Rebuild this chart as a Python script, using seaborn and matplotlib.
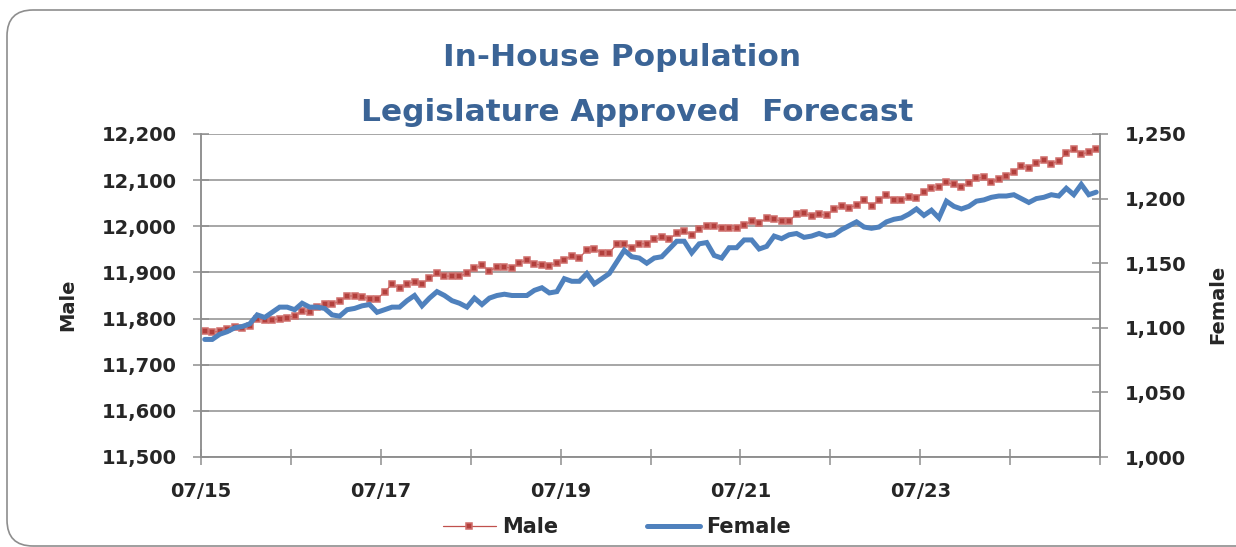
import numpy as np
import pandas as pd
import seaborn as sns
import matplotlib
matplotlib.use("Agg")
import matplotlib.pyplot as plt
from matplotlib.patches import FancyBboxPatch
from matplotlib.transforms import IdentityTransform
from matplotlib.ticker import FuncFormatter

# ---------------- data ----------------
male = [11772, 11771, 11772, 11778, 11782, 11780, 11784, 11800, 11797, 11796,
        11800, 11802, 11806, 11817, 11815, 11824, 11832, 11831, 11838, 11849,
        11849, 11847, 11843, 11842, 11858, 11874, 11867, 11875, 11880, 11875,
        11887, 11898, 11892, 11892, 11892, 11898, 11909, 11916, 11903, 11912,
        11912, 11909, 11920, 11928, 11918, 11916, 11915, 11920, 11928, 11936,
        11931, 11949, 11950, 11943, 11943, 11961, 11962, 11954, 11962, 11962,
        11972, 11976, 11972, 11985, 11990, 11981, 11994, 12001, 12001, 11996,
        11996, 11996, 12003, 12011, 12008, 12017, 12015, 12011, 12011, 12027,
        12029, 12022, 12026, 12024, 12037, 12044, 12040, 12046, 12058, 12044,
        12057, 12068, 12057, 12057, 12063, 12062, 12074, 12084, 12086, 12095,
        12091, 12086, 12093, 12104, 12106, 12095, 12102, 12108, 12118, 12131,
        12127, 12137, 12144, 12135, 12142, 12158, 12168, 12157, 12160, 12167]

female = [1091, 1091, 1095, 1097, 1100, 1101, 1103, 1110, 1108, 1112,
          1116, 1116, 1114, 1119, 1116, 1116, 1115, 1110, 1109, 1114,
          1115, 1117, 1118, 1112, 1114, 1116, 1116, 1121, 1125, 1117,
          1123, 1128, 1125, 1121, 1119, 1116, 1123, 1118, 1123, 1125,
          1126, 1125, 1125, 1125, 1129, 1131, 1127, 1128, 1138, 1136,
          1136, 1142, 1134, 1138, 1142, 1151, 1160, 1155, 1154, 1150,
          1154, 1155, 1161, 1167, 1167, 1158, 1165, 1166, 1156, 1154,
          1162, 1162, 1168, 1168, 1161, 1163, 1171, 1169, 1172, 1173,
          1170, 1171, 1173, 1171, 1172, 1176, 1179, 1182, 1178, 1177,
          1178, 1182, 1184, 1185, 1188, 1192, 1187, 1191, 1185, 1198,
          1194, 1192, 1194, 1198, 1199, 1201, 1202, 1202, 1203, 1200,
          1197, 1200, 1201, 1203, 1202, 1208, 1203, 1211, 1203, 1205]

x_labels = ["07/15", "07/17", "07/19", "07/21", "07/23"]
left_ticks = [11500, 11600, 11700, 11800, 11900, 12000, 12100, 12200]
right_ticks = [1000, 1050, 1100, 1150, 1200, 1250]
title_lines = ["In-House Population", "Legislature Approved  Forecast"]

n = len(male)
df = pd.DataFrame({"month": np.arange(n) + 0.5, "Male": male, "Female": female})

# ---------------- styling ----------------
sns.set_style("white")
plt.rcParams["font.family"] = ["DejaVu Sans"]

W, H = 1236, 547
fig = plt.figure(figsize=(W / 100, H / 100), dpi=100)
ax = fig.add_axes([201 / W, 1 - 457 / H, (1100 - 201) / W, (457 - 134) / H])
ax2 = ax.twinx()

GRAY = "#8E8E8E"
RED = "#C0504D"
BLUE = "#4F81BD"

sns.lineplot(data=df, x="month", y="Male", ax=ax, color=RED, lw=0.9,
             marker="s", markersize=5.0, markerfacecolor="#B2403D",
             markeredgecolor="#CF6E6B", markeredgewidth=1.1, label="Male",
             legend=False)
sns.lineplot(data=df, x="month", y="Female", ax=ax2, color=BLUE, lw=3.6,
             label="Female", legend=False, solid_joinstyle="miter")

ax.set_xlim(0, n)
ax.set_ylim(left_ticks[0], left_ticks[-1])
ax2.set_ylim(right_ticks[0], right_ticks[-1])

ax.set_yticks(left_ticks)
ax2.set_yticks(right_ticks)
fmt = FuncFormatter(lambda v, p: f"{int(v):,}")
ax.yaxis.set_major_formatter(fmt)
ax2.yaxis.set_major_formatter(fmt)

xt = np.arange(0, n + 1, 12)
ax.set_xticks(xt)
lab = []
for i, t in enumerate(xt):
    lab.append(x_labels[i // 2] if (i % 2 == 0 and i // 2 < len(x_labels)) else "")
ax.set_xticklabels(lab)

ax.grid(axis="y", color=GRAY, lw=1.1)
ax.grid(axis="x", visible=False)
ax2.grid(False)
ax.set_axisbelow(True)

for a in (ax, ax2):
    for s in a.spines.values():
        s.set_color(GRAY)
        s.set_linewidth(1.1)
    a.spines["top"].set_visible(False)
    a.patch.set_visible(False)

tickkw = dict(direction="inout", length=11.5, width=1.1, color=GRAY,
              labelsize=14, pad=12)
ax.tick_params(axis="both", left=True, bottom=True, **tickkw)
ax2.tick_params(axis="y", right=True, **tickkw)
for t in ax.get_xticklabels() + ax.get_yticklabels() + ax2.get_yticklabels():
    t.set_fontweight("bold")

ax.set_xlabel("")
ax.set_ylabel("Male", fontsize=14, fontweight="bold")
ax2.set_ylabel("Female", fontsize=14, fontweight="bold", rotation=90)
ax.yaxis.set_label_coords((77 - 201) / 899, (457 - 305) / 323)
ax2.yaxis.set_label_coords((1208 - 201) / 899, (457 - 304) / 323)

# title
fig.text(622 / W, 1 - 66 / H, title_lines[0], ha="center", va="baseline",
         fontsize=22.5, fontweight="bold", color="#3B6496")
fig.text(637 / W, 1 - 121 / H, title_lines[1], ha="center", va="baseline",
         fontsize=22.5, fontweight="bold", color="#3B6496")

# legend
h1, l1 = ax.get_legend_handles_labels()
h2, l2 = ax2.get_legend_handles_labels()
fig.legend(h1 + h2, l1 + l2, loc="center", bbox_to_anchor=(617 / W, 1 - 527 / H),
           ncol=2, frameon=False, prop={"weight": "bold", "size": 15},
           handlelength=2.5, handletextpad=0.3, columnspacing=4.3)

# rounded chart border
border = FancyBboxPatch((7, 1), 1400, 536, boxstyle="round,pad=0,rounding_size=26",
                        transform=IdentityTransform(), facecolor="none",
                        edgecolor=GRAY, linewidth=1.2)
fig.add_artist(border)

fig.savefig("out.png", dpi=100)
